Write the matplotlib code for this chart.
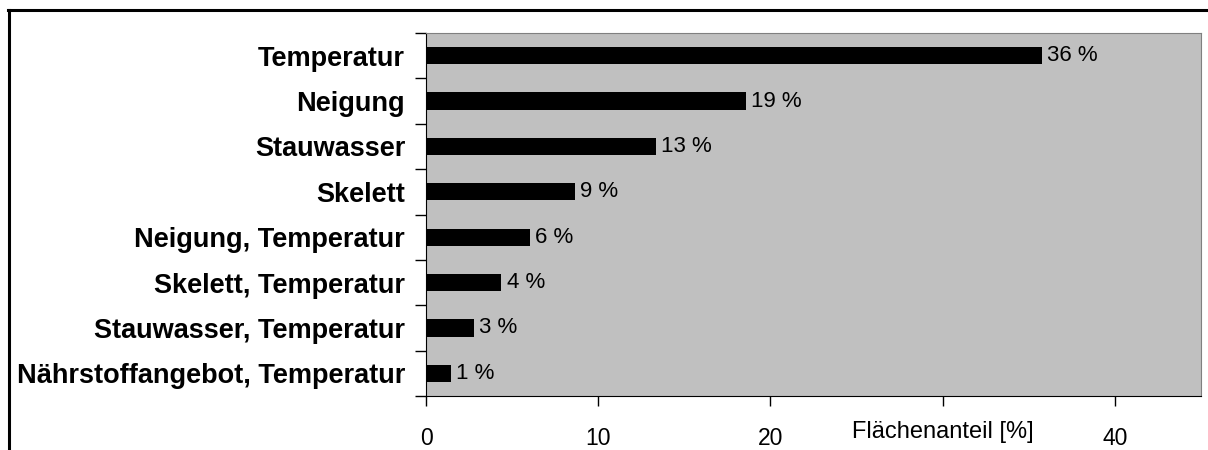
import numpy as np
import matplotlib
matplotlib.use("Agg")
import matplotlib.pyplot as plt
from matplotlib.lines import Line2D

plt.rcParams['font.family'] = ['Liberation Sans', 'DejaVu Sans']

categories = ['Temperatur', 'Neigung', 'Stauwasser', 'Skelett',
              'Neigung, Temperatur', 'Skelett, Temperatur',
              'Stauwasser, Temperatur', 'Nährstoffangebot, Temperatur']
shares = [35.75, 18.56, 13.33, 8.66, 6.05, 4.38, 2.79, 1.43]
xticks = [0, 10, 20, 30, 40]
xticklabels = ['0', '10', '20', '', '40']

fig = plt.figure(figsize=(12.08, 4.5), dpi=100)
ax = fig.add_axes([426 / 1208, 1 - 396 / 450, 775 / 1208, 363 / 450])
ax.set_facecolor('#C0C0C0')

y = np.arange(len(categories))
ax.barh(y, shares, height=0.38, color='black')
for yi, v in zip(y, shares):
    ax.text(v + 0.3, yi, f'{round(v)} %', va='center', ha='left', fontsize=16)

ax.set_xlim(0, 45)
ax.set_ylim(len(categories) - 0.5, -0.5)

ax.set_yticks(y)
ax.set_yticklabels(categories, fontsize=19.5, fontweight='bold')
ax.set_yticks(np.arange(len(categories) + 1) - 0.5, minor=True)
ax.tick_params(axis='y', which='major', length=0, pad=15)
ax.tick_params(axis='y', which='minor', length=8, width=1, direction='out')

ax.set_xticks(xticks)
ax.set_xticklabels(xticklabels, fontsize=16.5)
ax.tick_params(axis='x', length=7, width=1, direction='out', pad=15)

for s in ['left', 'bottom']:
    ax.spines[s].set_color('black')
for s in ['top', 'right']:
    ax.spines[s].set_color('#808080')

ax.text(30, -0.07, 'Flächenanteil [%]', transform=ax.get_xaxis_transform(),
        ha='center', va='top', fontsize=17)

# frame round the figure (top and left edges visible)
fig.add_artist(Line2D([9 / 1208, 9 / 1208], [0, 1 - 9.5 / 450], color='black', lw=2.2,
                      transform=fig.transFigure))
fig.add_artist(Line2D([8 / 1208, 1], [1 - 9.5 / 450, 1 - 9.5 / 450], color='black', lw=2.2,
                      transform=fig.transFigure))

fig.savefig('out.png', dpi=100)
